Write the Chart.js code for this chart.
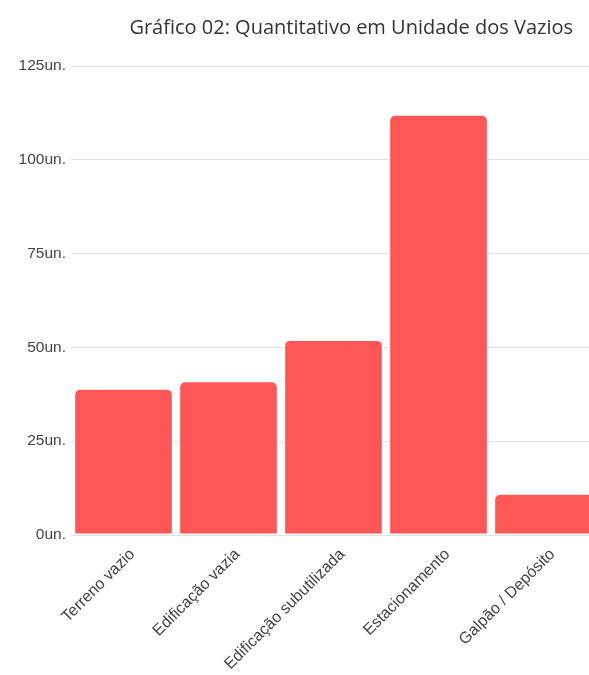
<!DOCTYPE html>
<html>
<head>
<meta charset="utf-8">
<script src="https://cdn.jsdelivr.net/npm/chart.js@4"></script>
<style>
html,body{margin:0;padding:0;background:#fff;overflow:hidden;}
#wrap{width:596px;height:675px;position:relative;}
</style>
</head>
<body>
<div id="wrap"><canvas id="c"></canvas></div>
<script>
const titleText = 'Gráfico 02: Quantitativo em Unidade dos Vazios';
const categories = ['Terreno vazio', 'Edificação vazia', 'Edificação subutilizada', 'Estacionamento', 'Galpão / Depósito'];
const values = [39, 41, 52, 112, 11];
const yTicks = [0, 25, 50, 75, 100, 125];
const unitSuffix = 'un.';

const titleRightPlugin = {
  id: 'titleRight',
  afterLayout(chart) {
    if (chart.titleBlock) { chart.titleBlock.right = 573; }
  }
};

new Chart(document.getElementById('c'), {
  type: 'bar',
  data: {
    labels: categories,
    datasets: [{
      data: values,
      backgroundColor: '#ff5757',
      borderColor: '#ffffff',
      borderWidth: 1,
      borderSkipped: false,
      borderRadius: {topLeft: 6, topRight: 6, bottomLeft: 0, bottomRight: 0},
      categoryPercentage: 1.0,
      barPercentage: 0.94
    }]
  },
  plugins: [titleRightPlugin],
  options: {
    responsive: true,
    maintainAspectRatio: false,
    animation: false,
    layout: {padding: {left: 0, right: 0, top: 0, bottom: 0}},
    plugins: {
      legend: {display: false},
      tooltip: {enabled: false},
      title: {
        display: true,
        text: titleText,
        align: 'end',
        color: '#333333',
        font: {family: 'Open Sans', size: 20, weight: 'normal', lineHeight: 1.2},
        padding: {top: 16, bottom: 26}
      }
    },
    scales: {
      x: {
        grid: {display: false},
        border: {display: false},
        ticks: {
          color: '#444444',
          font: {family: 'Liberation Sans', size: 16},
          maxRotation: 45,
          minRotation: 45,
          padding: 2,
          labelOffset: 9
        },
        afterFit: function(s){ s.height = 140; }
      },
      y: {
        min: 0,
        max: yTicks[yTicks.length - 1],
        afterBuildTicks: function(s){ s.ticks = yTicks.map(v => ({value: v})); },
        grid: {color: '#e0e0e0', drawTicks: false},
        border: {display: false},
        ticks: {
          color: '#444444',
          font: {family: 'Liberation Sans', size: 15.5},
          padding: 5,
          callback: function(v){ return v + unitSuffix; }
        },
        afterFit: function(s){ s.width = 71; }
      }
    }
  }
});
</script>
</body>
</html>
